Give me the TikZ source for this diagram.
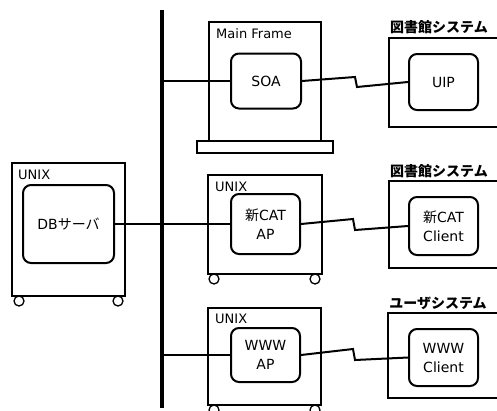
\documentclass[tikz,border=0pt]{standalone}
\usepackage{fontspec}
\setmainfont{DejaVu Sans}
\newfontfamily\jp{Noto Sans CJK JP}
\tikzset{
  inbox/.style={draw, line width=2pt, rounded corners=8pt, align=center,
    font=\fontsize{14}{19}\selectfont, inner sep=0pt},
  outbox/.style={draw, line width=1.2pt, inner sep=0pt},
  wheel/.style={draw, line width=1.3pt, circle, minimum size=10pt, inner sep=0pt, fill=white},
  lbl/.style={font=\fontsize{13}{15}\selectfont, anchor=west, inner sep=0pt},
  ttl/.style={font=\jp\bfseries\fontsize{14}{16}\selectfont, inner sep=0pt},
  wire/.style={line width=2pt},
  busline/.style={line width=4.5pt}
}
\begin{document}
\begin{tikzpicture}[x=1pt,y=-1pt]
\useasboundingbox (0,0) rectangle (497,410);
\clip (0,0) rectangle (497,410);

% bus
\coordinate (bt) at (162,10);
\coordinate (bb) at (162,408);
\draw[busline] (bt) -- (bb);

% Main Frame
\node[outbox, minimum width=112pt, minimum height=119pt] (mf) at (265,81.5) {};
\node[outbox, minimum width=136pt, minimum height=12pt] (plate) at (265,147) {};
\node[lbl] (mflbl) at (216,34) {Main Frame};
\node[inbox, minimum width=70pt, minimum height=55pt] (soa) at (266,81) {SOA};

% Library system 1
\node[ttl] (t1) at (439,27) {図書館システム};
\node[outbox, minimum width=131pt, minimum height=89pt] (lib1) at (454.5,82.5) {};
\node[inbox, minimum width=69pt, minimum height=56pt] (uip) at (443.5,82) {UIP};

% DB UNIX
\node[outbox, minimum width=113pt, minimum height=133pt] (dbbox) at (68.5,229.5) {};
\node[wheel] (dbw1) at (19,301) {};
\node[wheel] (dbw2) at (118,301) {};
\node[lbl] (dblbl) at (18,175) {UNIX};
\node[inbox, minimum width=91pt, minimum height=78pt] (db) at (68.5,224) {DB{\jp サーバ}};

% CAT UNIX
\node[outbox, minimum width=114pt, minimum height=99pt] (catbox) at (265,224.5) {};
\node[wheel] (cw1) at (214,279) {};
\node[wheel] (cw2) at (315,279) {};
\node[lbl] (catlbl) at (215,187) {UNIX};
\node[inbox, minimum width=69pt, minimum height=60pt] (catap) at (265.5,224) {{\jp 新}CAT\\AP};

% Library system 2
\node[ttl] (t2) at (439,171) {図書館システム};
\node[outbox, minimum width=131pt, minimum height=87pt] (lib2) at (454.5,224.5) {};
\node[inbox, minimum width=69pt, minimum height=58pt] (catcl) at (443.5,226) {{\jp 新}CAT\\Client};

% WWW UNIX
\node[outbox, minimum width=113pt, minimum height=97pt] (wwwbox) at (264.5,356.5) {};
\node[wheel] (ww1) at (214,410) {};
\node[wheel] (ww2) at (315,410) {};
\node[lbl] (wwwlbl) at (215,319) {UNIX};
\node[inbox, minimum width=69pt, minimum height=54pt] (wwwap) at (265.5,355) {WWW\\AP};

% User system
\node[ttl] (t3) at (438,303) {ユーザシステム};
\node[outbox, minimum width=132pt, minimum height=85pt] (usr) at (454,355.5) {};
\node[inbox, minimum width=69pt, minimum height=57pt] (wwwcl) at (443.5,357.5) {WWW\\Client};

% connectors
\draw[wire] (soa.west) -- (soa.west -| bt);
\draw[wire] (db.east) -- (catap.west);
\draw[wire] (wwwap.west) -- (wwwap.west -| bt);

\coordinate (z1a) at (355,77);
\coordinate (z1b) at (357,87);
\draw[wire] (soa.east) -- (z1a) -- (z1b) -- (uip.west);
\coordinate (z2a) at (353,219);
\coordinate (z2b) at (355,230);
\draw[wire] (catap.east) -- (z2a) -- (z2b) -- (catcl.west);
\coordinate (z3a) at (353,349);
\coordinate (z3b) at (355,360);
\draw[wire] (wwwap.east) -- (z3a) -- (z3b) -- (wwwcl.west);
\end{tikzpicture}
\end{document}
